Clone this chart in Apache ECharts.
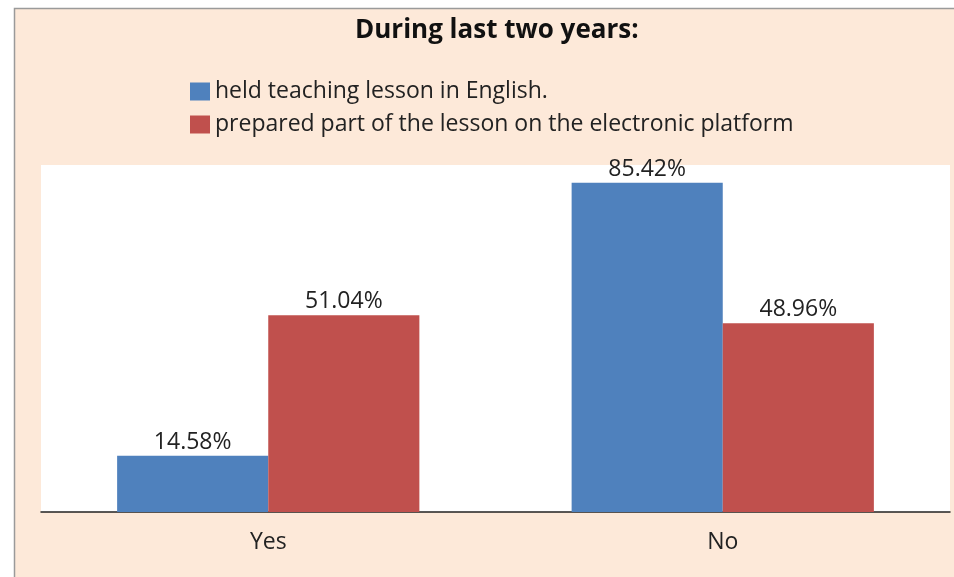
<!DOCTYPE html>
<html>
<head>
<meta charset="utf-8">
<script src="https://cdn.jsdelivr.net/npm/echarts@6/dist/echarts.min.js"></script>
<style>
html,body{margin:0;padding:0;background:#fff;}
#chart{width:954px;height:577px;}
</style>
</head>
<body>
<div id="chart"></div>
<script>
const categories = ['Yes', 'No'];
const heldEnglish = [14.58, 85.42];
const electronicPlatform = [51.04, 48.96];
const seriesNames = ['held teaching lesson in English.', 'prepared part of the lesson on the electronic platform'];
const titleText = 'During last two years:';

const FONT = 'Open Sans';
const chart = echarts.init(document.getElementById('chart'));
const labelCfg = {
  show: true, position: 'top', distance: 2,
  formatter: p => p.value.toFixed(2) + '%',
  fontFamily: FONT, fontSize: 23, color: '#222'
};
chart.setOption({
  animation: false,
  backgroundColor: '#fff',
  graphic: [{
    type: 'rect', z: -10, silent: true,
    shape: {x: 14.5, y: 8.5, width: 960, height: 600},
    style: {fill: '#FDE9D9', stroke: '#9a9a9a', lineWidth: 1.5}
  }],
  title: {
    text: titleText, left: 350, top: 13,
    textStyle: {fontFamily: FONT, fontSize: 26, fontWeight: 'bold', color: '#111'}
  },
  legend: {
    orient: 'vertical', left: 185, top: 75, itemGap: 10,
    itemWidth: 20, itemHeight: 18, icon: 'rect',
    textStyle: {fontFamily: FONT, fontSize: 23, color: '#222'},
    data: seriesNames
  },
  grid: {
    left: 41, right: 4, top: 165, bottom: 65,
    show: true, backgroundColor: '#fff', borderWidth: 0
  },
  xAxis: {
    type: 'category', data: categories,
    axisLine: {lineStyle: {color: '#222', width: 1.5}},
    axisTick: {show: false},
    axisLabel: {fontFamily: FONT, fontSize: 23, color: '#222', margin: 19}
  },
  yAxis: {
    type: 'value', min: 0, max: 90, show: false,
    splitLine: {show: false}
  },
  series: [
    {name: seriesNames[0], type: 'bar', data: heldEnglish,
     itemStyle: {color: '#4F81BD'}, barGap: '0%', barCategoryGap: '33.5%', label: labelCfg},
    {name: seriesNames[1], type: 'bar', data: electronicPlatform,
     itemStyle: {color: '#C0504D'}, barGap: '0%', barCategoryGap: '33.5%', label: labelCfg}
  ]
});
</script>
</body>
</html>
